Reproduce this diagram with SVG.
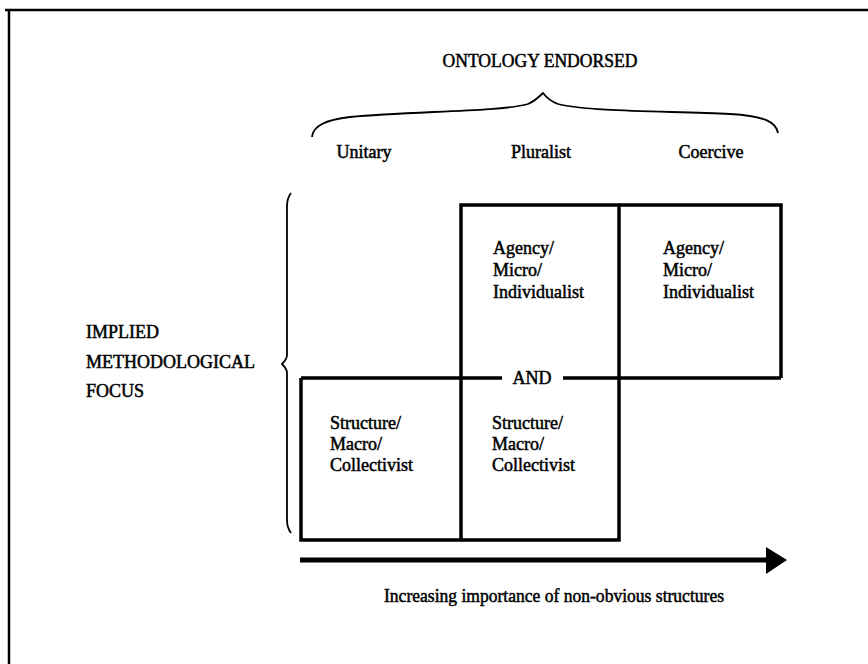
<svg xmlns="http://www.w3.org/2000/svg" width="868" height="664" viewBox="0 0 868 664">
<defs>
<style>
text{font-family:"Liberation Serif","Times New Roman",serif;fill:#000;stroke:#000;stroke-width:0.5;font-size:18px}
.box{fill:none;stroke:#000;stroke-width:3.5}
.br{fill:none;stroke:#000;stroke-width:1.8}
</style>
</defs>
<rect width="868" height="664" fill="#fff"/>
<g id="frame"><path d="M5,10 L868,10 M9,10 L9,664" fill="none" stroke="#000" stroke-width="2.5"/></g>
<g id="header">
<text x="540" y="67" text-anchor="middle" textLength="195" lengthAdjust="spacingAndGlyphs">ONTOLOGY ENDORSED</text>
<path class="br" d="M312,137 C313,126 325,120 350,117 C410,111 500,112 528,104 C535,101 539,97 543,93 C546,97 550,101 558,104 C590,112 670,111 730,114 C765,116 776,122 778,133"/>
<text x="364" y="158" text-anchor="middle">Unitary</text>
<text x="541" y="158" text-anchor="middle">Pluralist</text>
<text x="711" y="158" text-anchor="middle">Coercive</text>
</g>
<g id="rowlabel">
<text x="86" y="338">IMPLIED</text>
<text x="86" y="368">METHODOLOGICAL</text>
<text x="86" y="397">FOCUS</text>
<path class="br" d="M291,193 C288,197 287,200 287,206 L287,355 C287,359 285,361 282,364 C285,367 287,369 287,373 L287,520 C287,526 288,529 291,533"/>
</g>
<g id="box-pluralist-agency"><path class="box" d="M461,378 L461,205 L619,205 L619,378"/>
<text x="493" y="254">Agency/</text><text x="493" y="276">Micro/</text><text x="493" y="298">Individualist</text></g>
<g id="box-coercive-agency"><path class="box" d="M619,205 L781,205 L781,378"/>
<text x="663" y="254">Agency/</text><text x="663" y="276">Micro/</text><text x="663" y="298">Individualist</text></g>
<g id="box-unitary-structure"><path class="box" d="M301,378 L301,540 L461,540 L461,378"/>
<text x="330" y="429">Structure/</text><text x="330" y="450">Macro/</text><text x="330" y="471">Collectivist</text></g>
<g id="box-pluralist-structure"><path class="box" d="M461,540 L619,540 L619,378"/>
<text x="492" y="429">Structure/</text><text x="492" y="450">Macro/</text><text x="492" y="471">Collectivist</text></g>
<g id="connectors">
<path class="box" d="M301,378 L502,378 M563,378 L781,378"/>
<text x="532" y="384" text-anchor="middle">AND</text>
<path d="M300,560 L770,560" stroke="#000" stroke-width="5" fill="none"/>
<path d="M766,547 L787,560 L766,574 Z" fill="#000"/>
<text x="554" y="602" text-anchor="middle" textLength="340" lengthAdjust="spacingAndGlyphs">Increasing importance of non-obvious structures</text>
</g>
</svg>
